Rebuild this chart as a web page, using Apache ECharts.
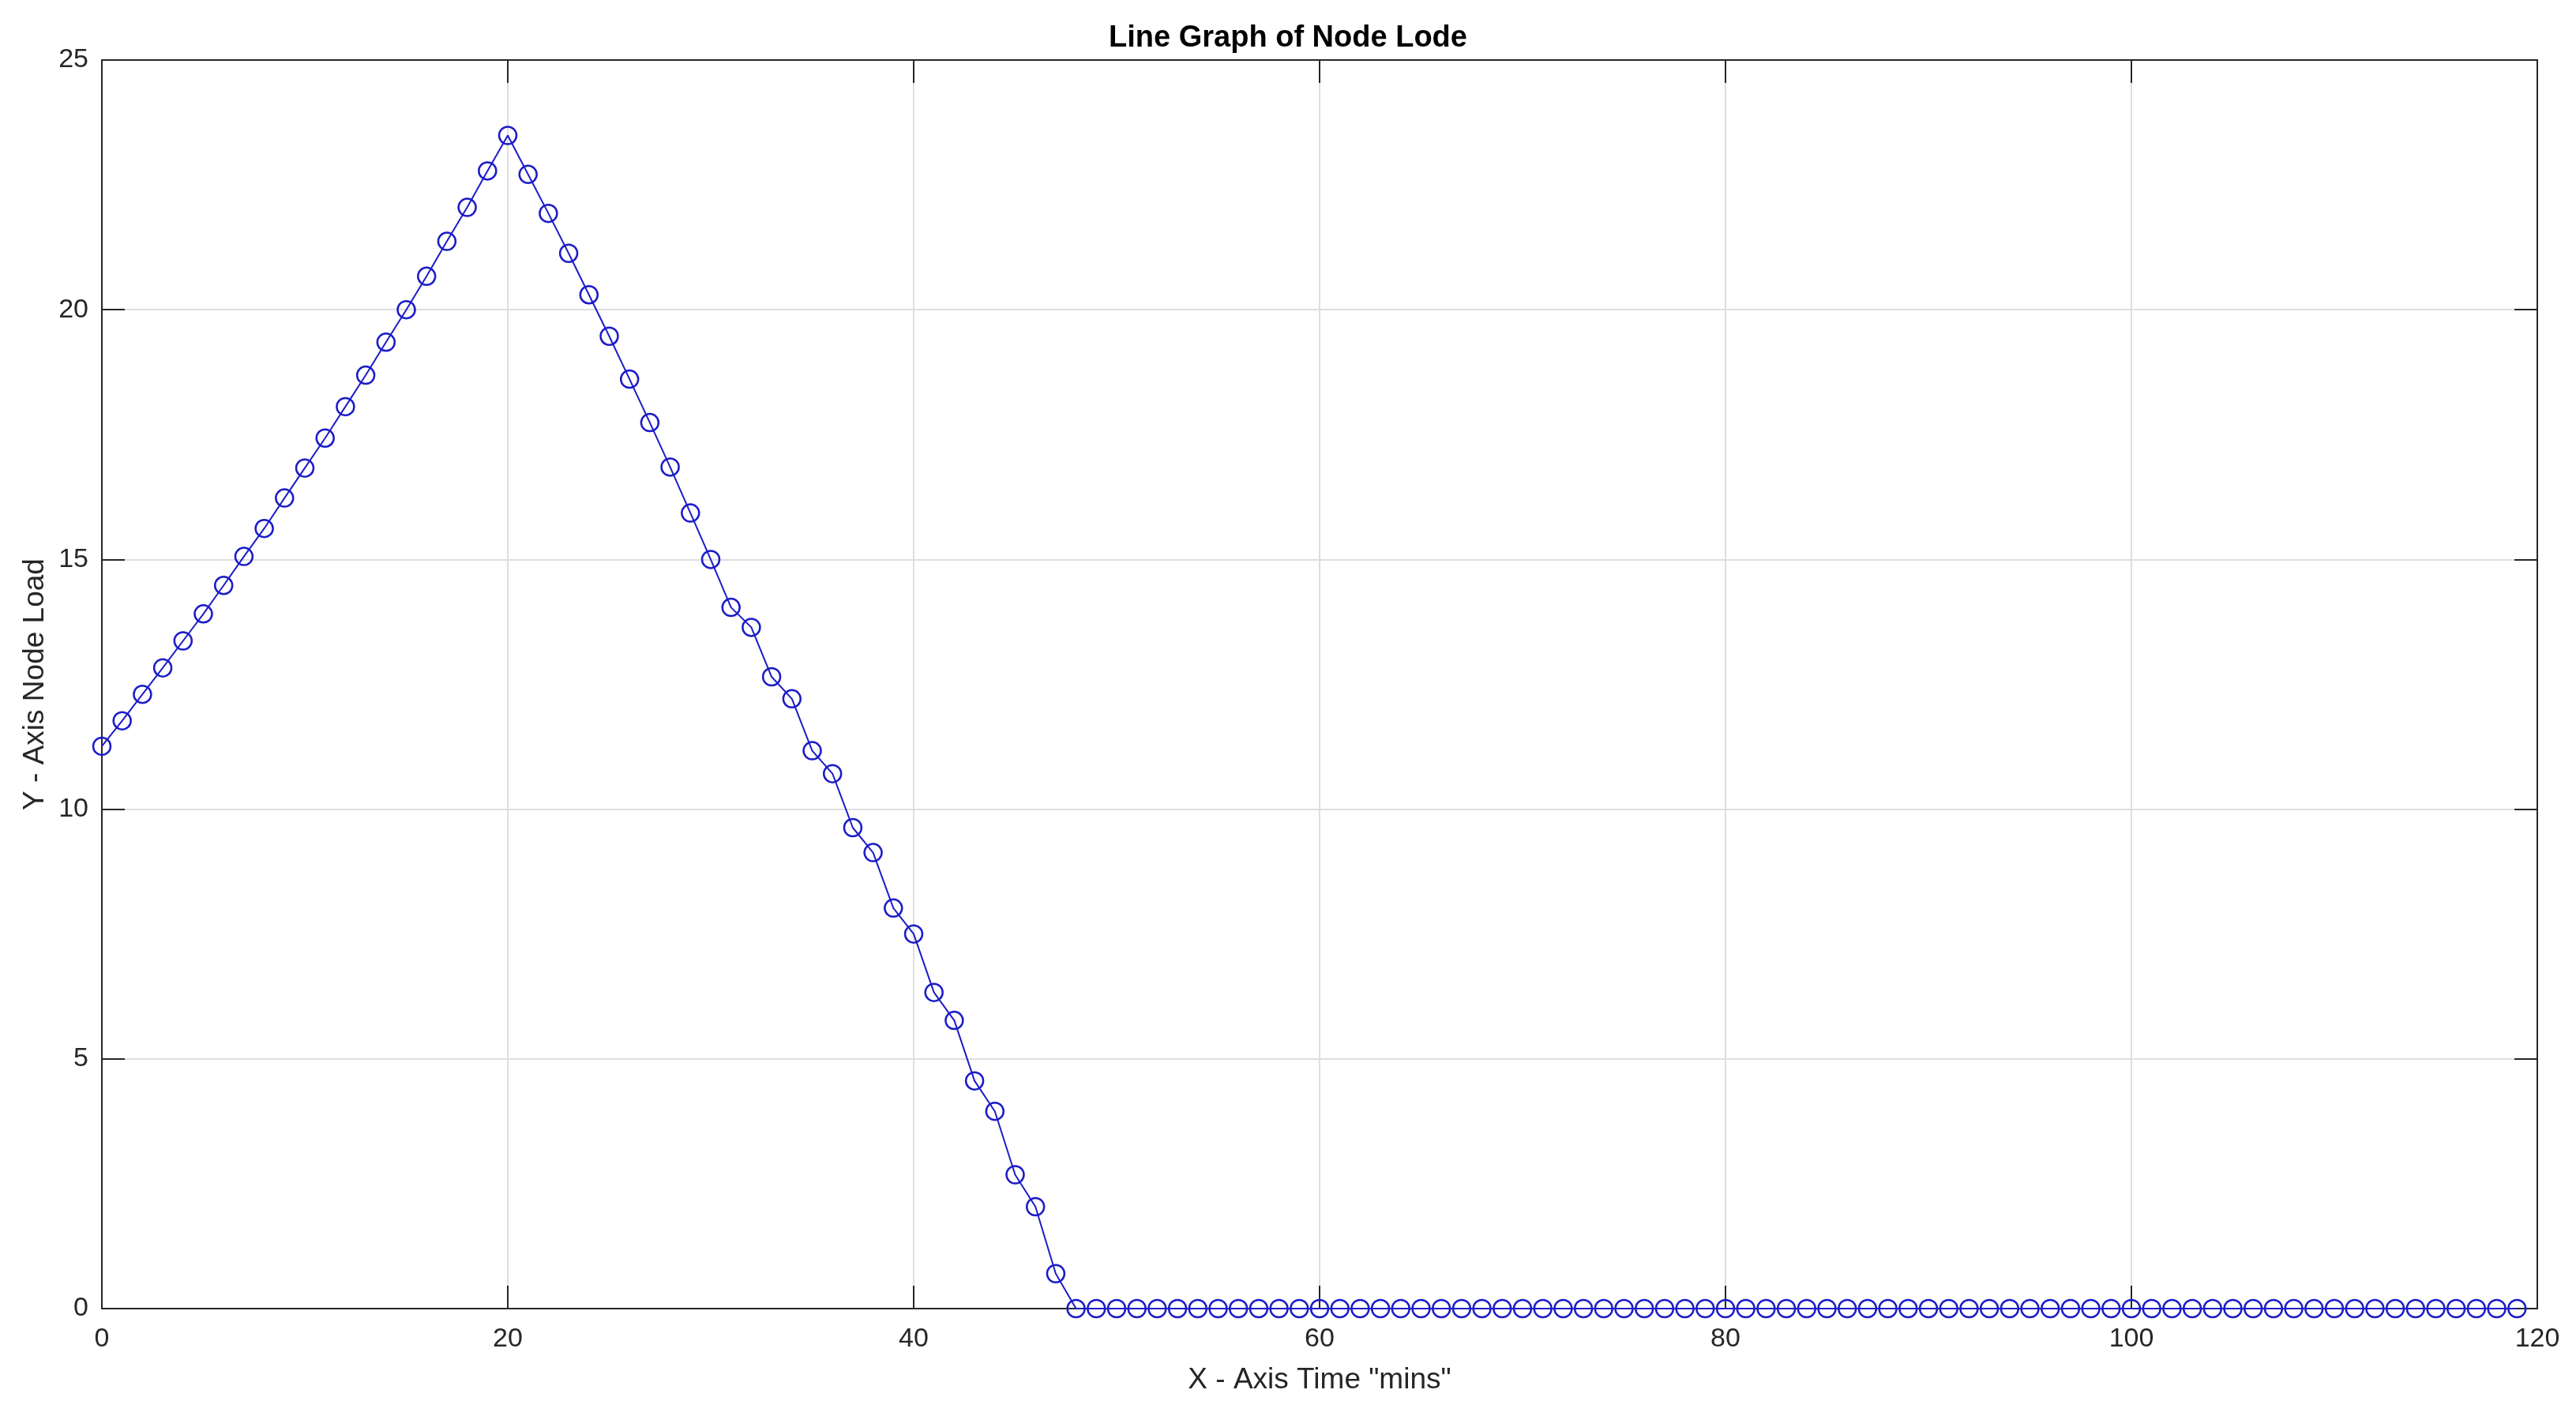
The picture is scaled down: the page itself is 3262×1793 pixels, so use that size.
<!DOCTYPE html>
<html>
<head>
<meta charset="utf-8">
<script src="https://cdn.jsdelivr.net/npm/echarts@6/dist/echarts.min.js"></script>
<style>
html,body{margin:0;padding:0;background:#fff;}
#chart{width:3262px;height:1793px;}
</style>
</head>
<body>
<div id="chart"></div>
<script>
const titleText = 'Line Graph of Node Lode';
const xAxisName = 'X - Axis Time "mins"';
const yAxisName = 'Y - Axis Node Load';

const xTicks = [0, 20, 40, 60, 80, 100, 120];
const yTicks = [0, 5, 10, 15, 20, 25];

const timeMins = [
  0, 1, 2, 3, 4, 5, 6, 7, 8, 9,
  10, 11, 12, 13, 14, 15, 16, 17, 18, 19,
  20, 21, 22, 23, 24, 25, 26, 27, 28, 29,
  30, 31, 32, 33, 34, 35, 36, 37, 38, 39,
  40, 41, 42, 43, 44, 45, 46, 47, 48, 49,
  50, 51, 52, 53, 54, 55, 56, 57, 58, 59,
  60, 61, 62, 63, 64, 65, 66, 67, 68, 69,
  70, 71, 72, 73, 74, 75, 76, 77, 78, 79,
  80, 81, 82, 83, 84, 85, 86, 87, 88, 89,
  90, 91, 92, 93, 94, 95, 96, 97, 98, 99,
  100, 101, 102, 103, 104, 105, 106, 107, 108, 109,
  110, 111, 112, 113, 114, 115, 116, 117, 118, 119
];

const nodeLoad = [
  11.26, 11.77, 12.30, 12.83, 13.37, 13.91, 14.48, 15.06, 15.62, 16.23,
  16.83, 17.43, 18.06, 18.69, 19.35, 20.00, 20.67, 21.37, 22.05, 22.78,
  23.49, 22.71, 21.93, 21.13, 20.30, 19.47, 18.61, 17.74, 16.85, 15.93,
  15.00, 14.04, 13.64, 12.65, 12.21, 11.17, 10.71, 9.63, 9.13, 8.02,
  7.50, 6.33, 5.77, 4.56, 3.95, 2.68, 2.04, 0.70, 0, 0,
  0, 0, 0, 0, 0, 0, 0, 0, 0, 0,
  0, 0, 0, 0, 0, 0, 0, 0, 0, 0,
  0, 0, 0, 0, 0, 0, 0, 0, 0, 0,
  0, 0, 0, 0, 0, 0, 0, 0, 0, 0,
  0, 0, 0, 0, 0, 0, 0, 0, 0, 0,
  0, 0, 0, 0, 0, 0, 0, 0, 0, 0,
  0, 0, 0, 0, 0, 0, 0, 0, 0, 0
];

const FONT = 'Liberation Sans';
const AXIS_COLOR = '#262626';
const GRID_COLOR = '#dedede';
const LINE_COLOR = '#1c1cc8';

const xMin = xTicks[0], xMax = xTicks[xTicks.length - 1], xStep = xTicks[1] - xTicks[0];
const yMin = yTicks[0], yMax = yTicks[yTicks.length - 1], yStep = yTicks[1] - yTicks[0];

const seriesData = timeMins.map((t, i) => [t, nodeLoad[i]]);

const chart = echarts.init(document.getElementById('chart'), null, {renderer: 'canvas'});

const baseAxisLine = {show: true, onZero: false, lineStyle: {color: AXIS_COLOR, width: 2}};
const baseTick = {show: true, inside: true, length: 29, lineStyle: {color: AXIS_COLOR, width: 2}};

chart.setOption({
  backgroundColor: '#ffffff',
  animation: false,
  title: {
    text: titleText,
    left: 'center',
    top: 25,
    textStyle: {fontFamily: FONT, fontSize: 38, fontWeight: 'bold', color: '#000000'}
  },
  grid: {left: 129, right: 49, top: 76, bottom: 136},
  xAxis: [
    {
      type: 'value', min: xMin, max: xMax, interval: xStep,
      position: 'bottom',
      name: xAxisName, nameLocation: 'middle', nameGap: 72,
      nameTextStyle: {fontFamily: FONT, fontSize: 37, color: AXIS_COLOR},
      axisLine: baseAxisLine,
      axisTick: baseTick,
      axisLabel: {fontFamily: FONT, fontSize: 34, color: AXIS_COLOR, margin: 22},
      splitLine: {show: true, lineStyle: {color: GRID_COLOR, width: 2}}
    },
    {
      type: 'value', min: xMin, max: xMax, interval: xStep,
      position: 'top',
      axisLine: baseAxisLine,
      axisTick: baseTick,
      axisLabel: {show: false},
      splitLine: {show: false}
    }
  ],
  yAxis: [
    {
      type: 'value', min: yMin, max: yMax, interval: yStep,
      position: 'left',
      name: yAxisName, nameLocation: 'middle', nameGap: 66, nameRotate: 90,
      nameTextStyle: {fontFamily: FONT, fontSize: 37, color: AXIS_COLOR},
      axisLine: baseAxisLine,
      axisTick: baseTick,
      axisLabel: {fontFamily: FONT, fontSize: 34, color: AXIS_COLOR, margin: 17},
      splitLine: {show: true, lineStyle: {color: GRID_COLOR, width: 2}}
    },
    {
      type: 'value', min: yMin, max: yMax, interval: yStep,
      position: 'right',
      axisLine: baseAxisLine,
      axisTick: baseTick,
      axisLabel: {show: false},
      splitLine: {show: false}
    }
  ],
  series: [
    {
      type: 'line',
      xAxisIndex: 0,
      yAxisIndex: 0,
      data: seriesData,
      symbol: 'circle',
      symbolSize: 22,
      showAllSymbol: true,
      clip: false,
      lineStyle: {color: LINE_COLOR, width: 2},
      itemStyle: {color: 'rgba(0,0,0,0)', borderColor: LINE_COLOR, borderWidth: 2.5}
    }
  ]
});
</script>
</body>
</html>
